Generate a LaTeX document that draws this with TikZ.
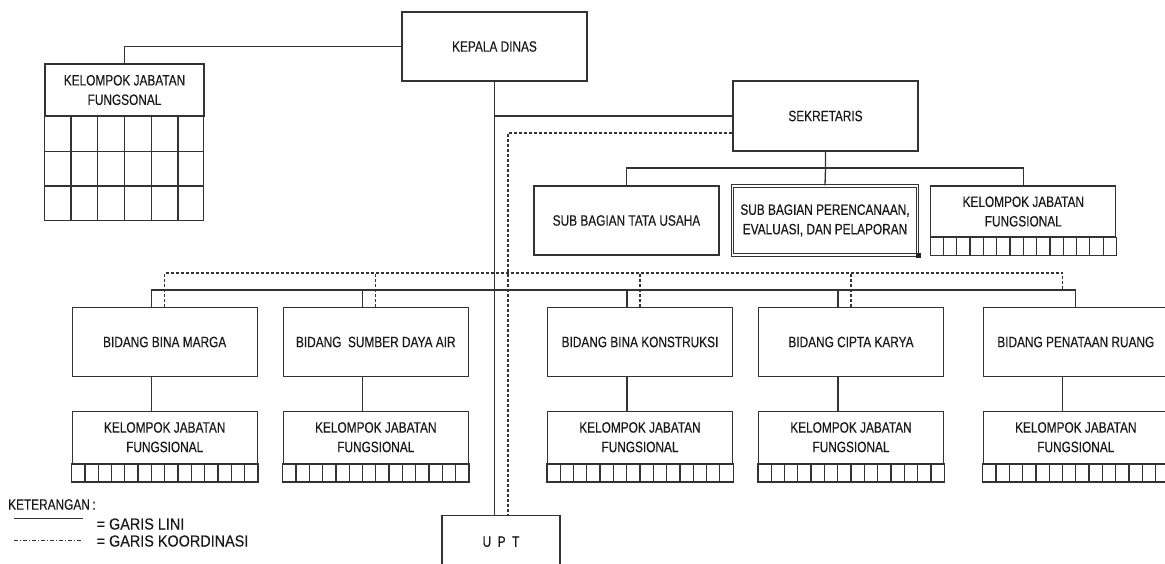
\documentclass[tikz,border=0pt]{standalone}
\usepackage{fontspec}
\newfontfamily\orgfont{Liberation Sans}[FakeStretch=0.79,FakeBold=0.3]
\newfontfamily\lgdfont{Liberation Sans}[FakeStretch=0.9,FakeBold=0.3]
\usetikzlibrary{calc}
\tikzset{
  box/.style={draw=black!80, line width=1.3pt, align=center, inner sep=0pt,
    minimum width=185pt, minimum height=69pt, text=black!90,
    font=\orgfont\fontsize{15}{19.5}\selectfont},
  jfbox/.style={box, minimum height=52pt},
  line/.style={draw=black!80, line width=1.3pt},
  koord/.style={draw=black!80, line width=1.1pt, dash pattern=on 3pt off 2pt},
  lgd/.style={inner sep=0pt, anchor=west, text=black!90, font=\lgdfont\fontsize{16}{18}\selectfont}
}
\begin{document}
\begin{tikzpicture}[x=1pt,y=-1pt]
  \useasboundingbox (0,0) rectangle (1165,563);
  \clip (0,0) rectangle (1165,563);

  \node[box] (kadis) at (494.5,46.5) {KEPALA DINAS};
  \node[jfbox, minimum width=159pt] (kjftop) at (124.5,90) {KELOMPOK JABATAN\\FUNGSONAL};
  \node[box, minimum height=70pt] (sek) at (825.5,116) {SEKRETARIS};

  \node[box] (tu) at (626.5,220.5) {SUB BAGIAN TATA USAHA};
  \node[box, line width=1pt, double, double distance=1.4pt] (pep) at (825,220.3) {SUB BAGIAN PERENCANAAN,\\EVALUASI, DAN PELAPORAN};
  \node[jfbox, minimum height=51pt] (kjfsek) at (1023.3,211.5) {KELOMPOK JABATAN\\FUNGSIONAL};
  \fill[black!85] (pep.south east) +(-2.5,-2.5) rectangle +(2.5,2.5);

  \node[box] (bm) at (164.7,342) {BIDANG BINA MARGA};
  \node[box] (sda) at (375.8,342) {BIDANG\ \ SUMBER DAYA AIR};
  \node[box] (bk) at (640,342) {BIDANG BINA KONSTRUKSI};
  \node[box] (ck) at (851,342) {BIDANG CIPTA KARYA};
  \node[box] (pr) at (1075.8,342) {BIDANG PENATAAN RUANG};
  \foreach \b in {bm,sda,bk,ck,pr}
    \node[jfbox] (kjf\b) at (\b.center |- 0,437.2) {KELOMPOK JABATAN\\FUNGSIONAL};

  \node[box, minimum width=118pt, minimum height=52pt] (upt) at (501,541.7) {U\hspace{6.5pt}P\hspace{6.5pt}T};

  \draw[line] (kjftop.south west) rectangle ++(159,104);
  \foreach \i in {1,...,5}
    \draw[line] ($(kjftop.south west)!\i/6!(kjftop.south east)$) -- ++(0,104);
  \foreach \j in {1,2}
    \draw[line] ($(kjftop.south west)+(0,\j*34.7)$) -- ++(159,0);

  \foreach \k in {kjfsek,kjfbm,kjfsda,kjfbk,kjfck,kjfpr} {
    \draw[line] (\k.south west) rectangle ($(\k.south east)+(0,18)$);
    \foreach \i in {1,...,13}
      \draw[line] ($(\k.south west)!\i/14!(\k.south east)$) -- ++(0,18);
  }

  \draw[line] (kadis.west) -| (kjftop.north);
  \draw[line] (kadis.south) -- (kadis.south |- upt.north);
  \draw[line] (kadis.south |- sek.west) -- (sek.west);
  \draw[koord] ($(sek.west)+(0,17)$) -| ($(upt.north)+(7,0)$);

  \coordinate (sekbus) at (825.5,168);
  \draw[line] (sek.south) -- (sekbus) -- (pep.north);
  \draw[line] (tu.north) |- (sekbus) -| (kjfsek.north);

  \coordinate (busl) at (0,290);
  \coordinate (busk) at (0,273);
  \draw[line] ($(bm.north)+(-13,0)$) |- (pr.north |- busl) -- (pr.north);
  \foreach \b in {sda,bk,ck}
    \draw[line] ($(\b.north)+(-13,0)$) -- ($(\b.north |- busl)+(-13,0)$);
  \draw[koord] (bm.north) |- ($(pr.north |- busk)+(-13,0)$) -- ($(pr.north |- busl)+(-13,0)$);
  \foreach \b in {sda,bk,ck}
    \draw[koord] (\b.north) -- (\b.north |- busk);
  \foreach \b in {bm,sda,bk,ck,pr}
    \draw[line] ($(\b.south)+(-13,0)$) -- ($(kjf\b.north)+(-13,0)$);

  \node[lgd, font=\orgfont\fontsize{15}{18}\selectfont] (ket) at (8,504.5) {KETERANGAN\,:};
  \coordinate (lini1) at (14,518);
  \coordinate (lini2) at (83,518);
  \draw[line, line width=1pt] (lini1) -- (lini2);
  \node[lgd] (garislini) at (96.5,524) {= GARIS LINI};
  \coordinate (koor1) at (14,540);
  \coordinate (koor2) at (83,540);
  \draw[draw=black!80, line width=0.9pt, dash pattern=on 4pt off 2pt on 1pt off 2pt] (koor1) -- (koor2);
  \node[lgd] (gariskoor) at (96.5,541) {= GARIS KOORDINASI};
\end{tikzpicture}
\end{document}
